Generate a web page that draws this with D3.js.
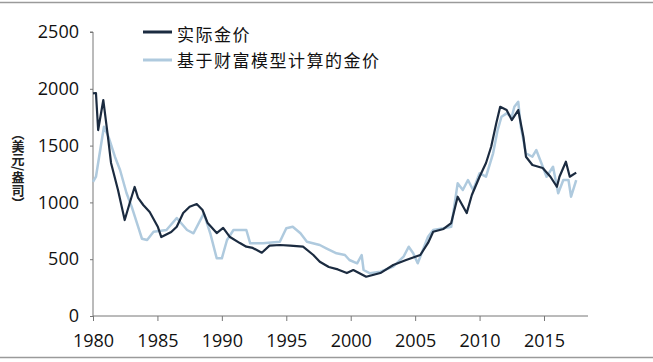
<!DOCTYPE html>
<html>
<head>
<meta charset="utf-8">
<script src="https://cdn.jsdelivr.net/npm/d3@7"></script>
<style>
  body { margin: 0; background: #fff; }
  svg { display: block; font-family: "Noto Sans CJK SC", "Noto Sans", sans-serif; }
</style>
</head>
<body>
<div id="chart"></div>
<script>
// series names
var seriesNames = ["实际金价", "基于财富模型计算的金价"];

// real gold price: [year, USD/oz]
var realYears = [1980.0, 1980.23, 1980.4, 1980.8, 1981.16, 1981.4, 1981.94, 1982.46, 1982.85, 1983.23, 1983.5, 1983.9, 1984.4, 1985.04, 1985.3, 1986.07, 1986.5, 1987.0, 1987.5, 1988.05, 1988.5, 1988.9, 1989.6, 1990.1, 1990.6, 1991.4, 1991.9, 1992.4, 1993.1, 1993.7, 1994.5, 1995.3, 1996.3, 1997.1, 1997.6, 1998.3, 1999.0, 1999.7, 2000.2, 2001.2, 2002.3, 2003.3, 2004.3, 2005.4, 2006.0, 2006.4, 2007.2, 2007.8, 2008.3, 2009.0, 2009.4, 2010.0, 2010.5, 2010.9, 2011.3, 2011.6, 2012.1, 2012.5, 2013.0, 2013.4, 2013.6, 2014.1, 2014.9, 2015.5, 2016.0, 2016.2, 2016.7, 2017.0, 2017.5];
var realPrice = [1960, 1963, 1637, 1901, 1576, 1347, 1109, 845, 995, 1136, 1039, 977, 915, 783, 695, 739, 786, 906, 962, 986, 933, 818, 730, 775, 698, 642, 610, 599, 557, 619, 625, 619, 610, 537, 478, 431, 410, 378, 405, 346, 378, 449, 493, 537, 643, 742, 766, 818, 1050, 906, 1065, 1226, 1347, 1490, 1699, 1842, 1813, 1725, 1813, 1578, 1402, 1329, 1303, 1226, 1138, 1226, 1358, 1226, 1262];

// model gold price: [year, USD/oz]
var modelYears = [1980.0, 1980.23, 1980.6, 1980.85, 1981.2, 1981.7, 1982.1, 1982.6, 1983.0, 1983.5, 1983.8, 1984.2, 1984.7, 1985.7, 1986.5, 1987.3, 1987.8, 1988.6, 1989.1, 1989.6, 1990.0, 1990.4, 1990.9, 1991.9, 1992.2, 1993.2, 1994.5, 1995.0, 1995.5, 1996.1, 1996.6, 1997.6, 1998.1, 1998.9, 1999.55, 1999.9, 2000.5, 2000.85, 2001.0, 2001.5, 2002.3, 2003.3, 2004.1, 2004.5, 2004.85, 2005.2, 2005.6, 2006.0, 2006.4, 2007.2, 2007.8, 2008.3, 2008.7, 2009.1, 2009.5, 2010.0, 2010.5, 2011.05, 2011.4, 2011.7, 2012.1, 2012.5, 2012.7, 2013.0, 2013.2, 2013.6, 2014.1, 2014.4, 2014.8, 2015.2, 2015.7, 2016.1, 2016.5, 2016.9, 2017.1, 2017.5];
var modelPrice = [1180, 1226, 1490, 1666, 1578, 1402, 1285, 1083, 962, 786, 680, 669, 742, 757, 863, 757, 728, 904, 728, 508, 508, 669, 757, 757, 640, 640, 654, 772, 786, 728, 654, 625, 596, 552, 537, 493, 464, 537, 405, 376, 390, 434, 522, 610, 552, 464, 581, 698, 757, 772, 786, 1168, 1109, 1197, 1109, 1256, 1226, 1432, 1637, 1754, 1784, 1754, 1842, 1886, 1666, 1432, 1402, 1461, 1344, 1226, 1314, 1080, 1197, 1197, 1050, 1197];

// axis ticks
var yTicks = [0, 500, 1000, 1500, 2000, 2500];
var xTicks = [1980, 1985, 1990, 1995, 2000, 2005, 2010, 2015];

var width = 653, height = 362;
var svg = d3.select("#chart").append("svg")
  .attr("width", width).attr("height", height);

// frame lines top & bottom
svg.append("line").attr("x1", 0).attr("x2", width).attr("y1", 2.5).attr("y2", 2.5)
  .attr("stroke", "#9a9a9a").attr("stroke-width", 1.5);
svg.append("line").attr("x1", 0).attr("x2", width).attr("y1", 357.5).attr("y2", 357.5)
  .attr("stroke", "#9a9a9a").attr("stroke-width", 1.5);

var x = d3.scaleLinear().domain([1980, 2015]).range([93, 544]);
var y = d3.scaleLinear().domain([0, 2500]).range([316, 32]);

// axes
var yAxis = d3.axisLeft(y).tickValues(yTicks).tickFormat(d3.format("d")).tickSize(3).tickPadding(11);
var gy = svg.append("g").attr("transform", "translate(93,0)").call(yAxis);
gy.select(".domain").attr("d", "M-3,32H0V316").attr("stroke", "#777");
gy.selectAll(".tick line").attr("stroke", "#777");
gy.selectAll(".tick text").attr("font-size", 18).attr("fill", "#111")
  .attr("font-family", "'Open Sans', 'Noto Sans', sans-serif");

var xAxis = d3.axisBottom(x).tickValues(xTicks).tickFormat(d3.format("d")).tickSize(5).tickPadding(13);
var gx = svg.append("g").attr("transform", "translate(0,316)").call(xAxis);
gx.select(".domain").attr("d", "M93,0H588").attr("stroke", "#777");
gx.selectAll(".tick line").attr("stroke", "#777");
gx.selectAll(".tick text").attr("font-size", 18).attr("fill", "#111")
  .attr("font-family", "'Open Sans', 'Noto Sans', sans-serif");

// y axis title
svg.append("text")
  .attr("x", 18).attr("y", 127)
  .attr("font-size", 13).attr("font-weight", "bold").attr("fill", "#222")
  .style("writing-mode", "vertical-rl")
  .text("（美元/盎司）");

var line = d3.line()
  .x(function(d) { return x(d[0]); })
  .y(function(d) { return y(d[1]); });

var model = d3.zip(modelYears, modelPrice);
var real = d3.zip(realYears, realPrice);

svg.append("path").datum(model).attr("d", line)
  .attr("fill", "none").attr("stroke", "#afcade").attr("stroke-width", 2.5)
  .attr("stroke-linejoin", "round");
svg.append("path").datum(real).attr("d", line)
  .attr("fill", "none").attr("stroke", "#1b2b40").attr("stroke-width", 2.2)
  .attr("stroke-linejoin", "round");

// legend
var legendColors = ["#1b2b40", "#afcade"];
var legendLineY = [32, 60];
var legendTextY = [41, 67];
var legend = svg.selectAll(".legend").data(seriesNames).enter().append("g");
legend.append("line").attr("x1", 143).attr("x2", 172)
  .attr("y1", function(d, i) { return legendLineY[i]; })
  .attr("y2", function(d, i) { return legendLineY[i]; })
  .attr("stroke", function(d, i) { return legendColors[i]; }).attr("stroke-width", 3);
legend.append("text").attr("x", 177)
  .attr("y", function(d, i) { return legendTextY[i]; })
  .attr("font-size", 17).attr("letter-spacing", 1.5).attr("fill", "#111")
  .text(function(d) { return d; });
</script>
</body>
</html>
